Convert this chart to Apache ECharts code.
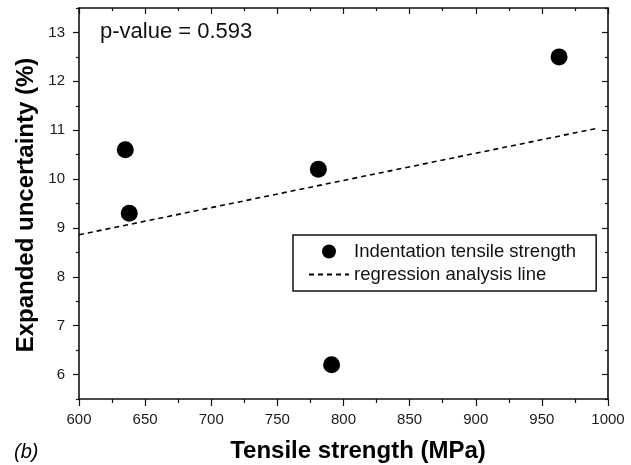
<!DOCTYPE html>
<html>
<head>
<meta charset="utf-8">
<script src="https://cdn.jsdelivr.net/npm/echarts@6/dist/echarts.min.js"></script>
<style>
  html, body { margin: 0; padding: 0; background: #fff; }
  #chart { width: 631px; height: 465px; }
</style>
</head>
<body>
<div id="chart"></div>
<script>
// measured points (tensile strength MPa, expanded uncertainty %)
var strength = [635, 638, 781, 791, 963]
var uncertainty = [10.6, 9.3, 10.2, 6.2, 12.5]
// regression line ends
var lineX = [600, 992]
var lineY = [8.86, 11.04]
var xTicks = [600, 650, 700, 750, 800, 850, 900, 950, 1000]
var yTicks = [6, 7, 8, 9, 10, 11, 12, 13]

var font = 'Liberation Sans, Arial, sans-serif'
var ink = '#111'

var points = strength.map(function (x, i) { return [x, uncertainty[i]] })
var regLine = lineX.map(function (x, i) { return [x, lineY[i]] })

// shared look for all four frame axes
function frameAxis(extra, inside, majorLen, minorLen) {
    var a = {
        axisLine: { show: true, onZero: false, lineStyle: { color: ink, width: 1.6 } },
        axisTick: { show: true, inside: inside, length: majorLen, lineStyle: { color: ink, width: 1.2 } },
        minorTick: { show: true, splitNumber: 2, length: minorLen, lineStyle: { color: ink, width: 1.2 } },
        splitLine: { show: false },
        minorSplitLine: { show: false },
        axisLabel: { show: false }
    }
    return Object.assign(a, extra)
}

var labelStyle = { show: true, color: '#1a1a1a', fontSize: 15, fontFamily: font }

// y range 5.5..13.5: ticks from min land on the halves (short),
// minor ticks land on the integers (long)
var option = {
    animation: false,
    backgroundColor: '#fff',
    grid: { left: 79, right: 23, top: 8, bottom: 66, containLabel: false },
    xAxis: [
        frameAxis({
            type: 'value', position: 'bottom', min: xTicks[0], max: xTicks[xTicks.length - 1], interval: 50,
            axisLabel: Object.assign({ margin: 13, formatter: function (v) { return String(v) } }, labelStyle)
        }, false, 7, 4),
        frameAxis({
            type: 'value', position: 'top', min: xTicks[0], max: xTicks[xTicks.length - 1], interval: 50
        }, true, 6, 3)
    ],
    yAxis: [
        frameAxis({
            type: 'value', position: 'left', min: 5.5, max: 13.5, interval: 1,
            axisLabel: Object.assign({
                margin: 14,
                customValues: yTicks,
                formatter: function (v) { return String(v) }
            }, labelStyle)
        }, false, 3, 6),
        frameAxis({
            type: 'value', position: 'right', min: 5.5, max: 13.5, interval: 1
        }, true, 3, 6)
    ],
    legend: {
        orient: 'vertical',
        left: 293,
        top: 235,
        padding: [7, 20, 7, 15],
        itemGap: 4,
        itemWidth: 40,
        itemHeight: 14,
        borderColor: ink,
        borderWidth: 1.5,
        borderRadius: 0,
        textStyle: { fontSize: 18.5, color: '#111', fontFamily: font },
        data: [
            { name: 'Indentation tensile strength' },
            { name: 'regression analysis line', itemStyle: { opacity: 0 } }
        ]
    },
    series: [
        {
            name: 'Indentation tensile strength',
            type: 'scatter',
            symbol: 'circle',
            symbolSize: 17,
            itemStyle: { color: '#000', opacity: 1 },
            data: points
        },
        {
            name: 'regression analysis line',
            type: 'line',
            showSymbol: false,
            symbol: 'none',
            color: '#000',
            lineStyle: { color: '#000', width: 1.6, type: [5, 4] },
            data: regLine
        }
    ],
    graphic: [
        {
            type: 'text', left: 100, top: 21,
            style: { text: 'p-value = 0.593', fontSize: 22, fill: '#111', fontFamily: font }
        },
        {
            type: 'text', x: 26, y: 205, rotation: Math.PI / 2,
            style: {
                text: 'Expanded uncertainty (%)', fontSize: 24, fontWeight: 'bold',
                fill: '#000', fontFamily: font, align: 'center', verticalAlign: 'middle'
            }
        },
        {
            type: 'text', x: 358, y: 451,
            style: {
                text: 'Tensile strength (MPa)', fontSize: 24, fontWeight: 'bold',
                fill: '#000', fontFamily: font, align: 'center', verticalAlign: 'middle'
            }
        },
        {
            type: 'text', x: 14, y: 452,
            style: {
                text: '(b)', fontSize: 20, fontStyle: 'italic',
                fill: '#000', fontFamily: font, verticalAlign: 'middle'
            }
        }
    ]
}

var myChart = echarts.init(document.getElementById('chart'))
myChart.setOption(option)
</script>
</body>
</html>
